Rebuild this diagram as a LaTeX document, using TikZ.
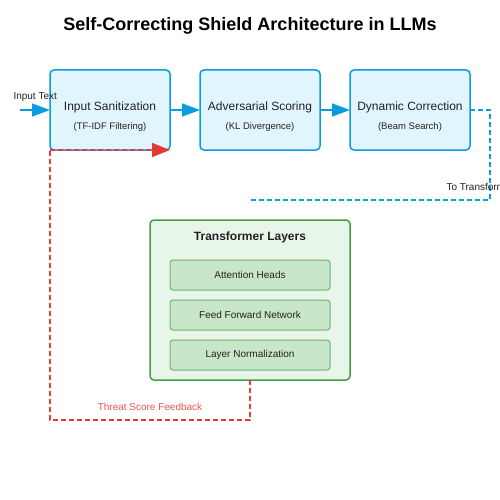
\documentclass[tikz,border=0pt]{standalone}
\usepackage{fontspec}
\setmainfont{Liberation Sans}
\usetikzlibrary{arrows.meta,positioning}

\definecolor{stageline}{HTML}{0A9BE0}
\definecolor{stagefill}{HTML}{E1F5FE}
\definecolor{tlline}{HTML}{43A047}
\definecolor{tlfill}{HTML}{E8F5E9}
\definecolor{subline}{HTML}{6DB171}
\definecolor{subfill}{HTML}{C8E6C9}
\definecolor{fbred}{HTML}{E53935}
\definecolor{fbtext}{HTML}{EF5350}
\definecolor{ink}{HTML}{222222}

\tikzset{
	stage/.style = {draw = stageline, fill = stagefill, line width = 1.5pt, rounded corners = 4pt, minimum width = 120pt, minimum height = 80pt, outer sep = 0pt},
	stagetext/.style = {text = ink, font = \fontsize{12}{14}\selectfont},
	stagesub/.style = {text = ink, font = \fontsize{9.5}{11}\selectfont},
	layer/.style = {draw = subline, fill = subfill, line width = 1pt, rounded corners = 3pt, minimum width = 160pt, minimum height = 30pt, text = ink, font = \fontsize{10}{12}\selectfont},
	flow/.style = {stageline, line width = 1.5pt, -{Triangle[length = 18pt, width = 13pt]}},
	todash/.style = {stageline, line width = 1.5pt, dash pattern = on 5pt off 3pt},
	fbdash/.style = {fbred, line width = 1.5pt, dash pattern = on 5pt off 3pt},
	note/.style = {text = ink, font = \fontsize{10}{12}\selectfont}
}

\begin{document}
\begin{tikzpicture}[x = 1pt, y = -1pt]
	\useasboundingbox (0,0) rectangle (500,500);
	\clip (0,0) rectangle (500,500);

	% title
	\node[text = black, font = \bfseries\fontsize{18}{21}\selectfont] (TITLE) at (250,26) {Self-Correcting Shield Architecture in LLMs};

	% pipeline stages
	\node[stage] (SAN) at (110,110) {};
	\node[stage] (ADV) at (260,110) {};
	\node[stage] (COR) at (410,110) {};
	\node[stagetext] at (110,107.5) {Input Sanitization};
	\node[stagesub] at (110,127.5) {(TF-IDF Filtering)};
	\node[stagetext] at (260,107.5) {Adversarial Scoring};
	\node[stagesub] at (260,127.5) {(KL Divergence)};
	\node[stagetext] at (410,107.5) {Dynamic Correction};
	\node[stagesub] at (410,127.5) {(Beam Search)};

	% transformer block
	\node[draw = tlline, fill = tlfill, line width = 1.5pt, rounded corners = 4pt, minimum width = 200pt, minimum height = 160pt, outer sep = 0pt] (TL) at (250,300) {};
	\node[text = ink, font = \bfseries\fontsize{12}{14}\selectfont] at (250,237.5) {Transformer Layers};
	\node[layer] (ATT) at (250,275) {Attention Heads};
	\node[layer] (FFN) at (250,315) {Feed Forward Network};
	\node[layer] (NORM) at (250,355) {Layer Normalization};

	% connectors
	\coordinate (IN) at (20,110);
	\coordinate (TOTL) at (250,200);
	\node[note, anchor = west] (INLBL) at (10,97) {Input Text};
	\draw[flow] (IN) -- (SAN.west);
	\draw[flow] (SAN.east) -- (ADV.west);
	\draw[flow] (ADV.east) -- (COR.west);
	\draw[todash] (COR.east) -- ++(20,0) |- (TOTL);
	\node[note, anchor = west] (TOLBL) at (443,187) {To Transformer};
	\draw[fbdash] (TL.south) -- ++(0,40) -| (SAN.south west);
	\draw[fbdash, -{Triangle[length = 18pt, width = 14pt]}] (SAN.south west) -- (SAN.south east);
	\node[text = fbtext, font = \fontsize{10}{12}\selectfont] (FBLBL) at (150,407) {Threat Score Feedback};
\end{tikzpicture}
\end{document}
